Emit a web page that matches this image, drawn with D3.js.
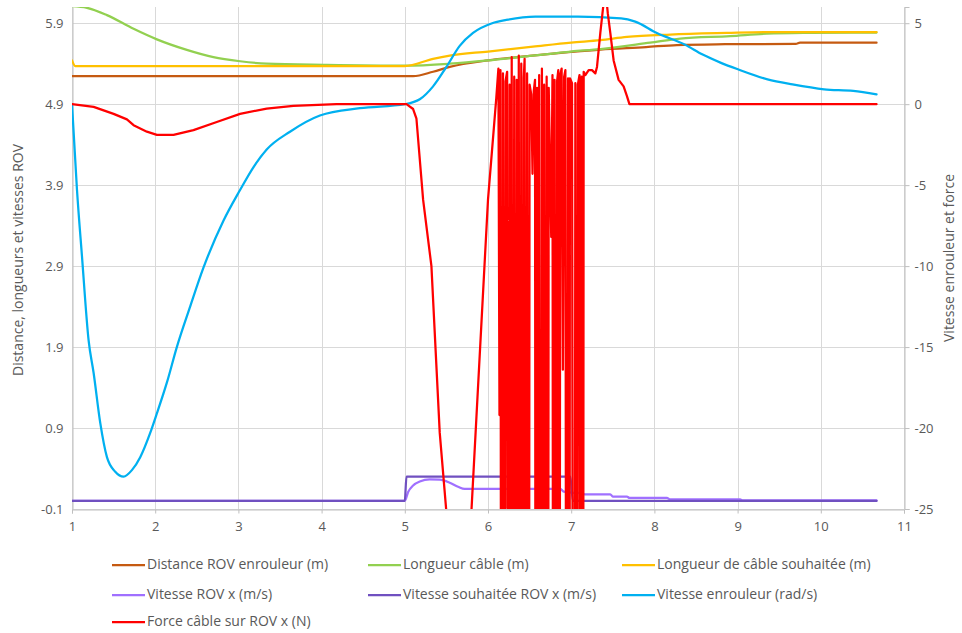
<!DOCTYPE html>
<html><head><meta charset="utf-8">
<script src="https://cdn.jsdelivr.net/npm/d3@7/dist/d3.min.js"></script>
<style>
body{margin:0;background:#fff;}
text{font-family:"Open Sans",sans-serif;fill:#595959;}
</style></head><body>
<svg id="chart" width="962" height="633"></svg>
<script>
// ---------- data ----------
const xTicks = [1,2,3,4,5,6,7,8,9,10,11];
const leftTicks = [-0.1,0.9,1.9,2.9,3.9,4.9,5.9];
const rightTicks = [-25,-20,-15,-10,-5,0,5];

const seriesNames = [
  "Distance ROV enrouleur (m)", "Longueur câble (m)", "Longueur de câble souhaitée (m)",
  "Vitesse ROV x (m/s)", "Vitesse souhaitée ROV x (m/s)", "Vitesse enrouleur (rad/s)",
  "Force câble sur ROV x (N)"
];
const seriesColors = ["#C55A11","#92D050","#FFC000","#A070FF","#7050C0","#00B0F0","#FF0000"];

// [time (s), value]
const distanceRov = [[1,5.245],[5.1,5.245],[5.34,5.30],[5.54,5.36],[6.0,5.44],[6.5,5.495],[7.0,5.545],[7.35,5.575],[7.9,5.605],[8.27,5.63],[8.85,5.64],[9.7,5.645],[9.75,5.66],[10.67,5.66]];
const cableLength = [[1,6.11],[1.18,6.09],[1.42,6.0],[1.74,5.83],[2.02,5.70],[2.38,5.57],[2.70,5.48],[3.02,5.43],[3.34,5.40],[4.06,5.385],[5.0,5.375],[5.54,5.40],[6.0,5.44],[6.54,5.50],[7.0,5.55],[7.35,5.58],[7.95,5.66],[8.31,5.71],[8.91,5.74],[9.35,5.77],[9.87,5.78],[10.67,5.785]];
const desiredLength = [[1,5.44],[1.04,5.37],[5.0,5.37],[5.34,5.46],[5.54,5.50],[6.0,5.55],[6.54,5.61],[7.0,5.66],[7.35,5.69],[7.67,5.73],[8.19,5.76],[8.87,5.78],[9.35,5.79],[10.67,5.79]];
const rovSpeed = [[1,0],[5.0,0],[5.04,0.11],[5.10,0.19],[5.18,0.24],[5.30,0.265],[5.42,0.262],[5.54,0.225],[5.64,0.175],[5.72,0.148],[6.87,0.148],[6.91,0.115],[7.03,0.10],[7.13,0.095],[7.16,0.082],[7.47,0.082],[7.50,0.053],[7.67,0.053],[7.70,0.037],[8.15,0.037],[8.19,0.02],[9.03,0.02],[9.06,0.005],[10.67,0.005]];
const desiredRovSpeed = [[1,0],[5.0,0],[5.02,0.3],[6.99,0.3],[7.02,0],[10.67,0]];
const winchSpeed = [[1.0,0],[1.06,-5.3],[1.12,-9.4],[1.20,-14.6],[1.26,-16.6],[1.34,-19.7],[1.42,-21.8],[1.52,-22.7],[1.62,-23.0],[1.72,-22.6],[1.82,-21.8],[1.94,-20.3],[2.02,-19.1],[2.14,-17.2],[2.26,-15.0],[2.42,-12.5],[2.58,-10.1],[2.82,-7.2],[3.02,-5.3],[3.18,-3.9],[3.34,-2.8],[3.62,-1.7],[3.98,-0.7],[4.46,-0.25],[5.0,0],[5.18,0.3],[5.34,1.1],[5.50,2.3],[5.66,3.6],[5.82,4.4],[6.05,5.0],[6.22,5.2],[6.57,5.4],[7.08,5.4],[7.60,5.3],[7.77,5.1],[8.03,4.39],[8.37,3.67],[8.58,3.06],[8.80,2.55],[9.01,2.14],[9.36,1.53],[9.66,1.22],[10.04,0.92],[10.39,0.82],[10.67,0.61]];
const cableForce = [[1.0,0],[1.26,-0.17],[1.50,-0.6],[1.66,-0.94],[1.74,-1.3],[1.90,-1.7],[2.02,-1.9],[2.22,-1.9],[2.46,-1.6],[2.74,-1.1],[3.02,-0.6],[3.34,-0.27],[3.66,-0.1],[4.18,0],[5.02,0],[5.10,-0.3],[5.14,-0.9],[5.18,-3.4],[5.22,-5.9],[5.32,-10.0],[5.42,-20.3],[5.50,-25.2],[5.67,-37],[5.80,-25.2],[6.0,-5.9],[6.07,-1.5],
 [6.10,0.4],[6.125,2.2],[6.138,-19.2],[6.15,2.1],[6.165,-90],[6.18,1.9],[6.195,-90],[6.21,1.4],
 [6.23,2.0],[6.245,-90],[6.26,1.2],[6.275,-90],[6.285,2.9],[6.30,-90],[6.315,1.7],[6.33,-90],[6.345,1.5],
 [6.36,-90],[6.37,3.0],[6.385,-90],[6.40,2.5],[6.415,-90],[6.43,1.6],[6.44,2.8],[6.455,-90],[6.47,1.9],
 [6.485,-90],[6.50,1.2],[6.52,0.6],[6.535,-4.3],[6.55,0.8],[6.565,1.5],[6.578,-90],[6.59,1.0],[6.60,-90],[6.615,1.8],
 [6.63,-90],[6.648,2.2],[6.66,-90],[6.675,1.2],[6.69,-90],[6.705,1.7],[6.715,-90],[6.73,1.0],
 [6.76,-8.2],[6.775,1.8],[6.79,-90],[6.80,1.5],[6.815,-90],[6.83,1.4],[6.845,2.1],[6.855,-90],[6.868,1.8],
 [6.885,2.2],[6.90,-16.4],[6.915,1.7],[6.93,2.1],[6.95,-90],[6.962,1.6],[6.975,-90],[6.985,1.6],
 [7.01,1.3],[7.035,-90],[7.05,1.3],[7.065,-90],[7.08,1.2],[7.10,1.8],[7.115,-90],[7.127,1.7],[7.137,-90],
 [7.15,2.0],[7.17,1.8],[7.21,2.1],[7.25,2.1],[7.29,1.9],[7.31,2.3],[7.35,4.4],[7.38,5.8],[7.41,7.2],[7.44,5.6],[7.47,4.4],[7.51,2.7],[7.57,1.5],[7.63,1.1],[7.67,0.5],[7.70,0],[10.67,0]];

const seriesData = [distanceRov, cableLength, desiredLength, rovSpeed, desiredRovSpeed, winchSpeed, cableForce];
const seriesAxis = ["left","left","left","left","left","right","right"];

// ---------- layout ----------
const plot = {left:72, right:904, top:7, bottom:509};
const svg = d3.select("#chart");

const x = d3.scaleLinear().domain([1,11]).range([plot.left, plot.right]);
const yL = d3.scaleLinear().domain([-0.1,6.1]).range([plot.bottom, plot.top]);
const yR = d3.scaleLinear().domain([-25,6]).range([plot.bottom, plot.top]);

// gridlines
const grid = svg.append("g");
grid.selectAll("line.h").data(leftTicks).join("line")
  .attr("x1", plot.left).attr("x2", plot.right)
  .attr("y1", d => Math.round(yL(d))+0.5).attr("y2", d => Math.round(yL(d))+0.5)
  .attr("stroke", "#D9D9D9").attr("stroke-width", 1);
grid.selectAll("line.v").data(xTicks).join("line")
  .attr("y1", plot.top).attr("y2", plot.bottom)
  .attr("x1", d => Math.round(x(d))+0.5).attr("x2", d => Math.round(x(d))+0.5)
  .attr("stroke", "#D9D9D9").attr("stroke-width", 1);

// axes
function styleAxis(g){
  g.selectAll("path.domain").attr("stroke","#BFBFBF").attr("stroke-width",1);
  g.selectAll(".tick line").attr("stroke","#BFBFBF");
  g.selectAll("text").attr("fill","#595959").style("font-size","13px").style("font-family",'"Open Sans",sans-serif');
}
svg.append("g").attr("transform",`translate(${plot.left+0.5},0)`)
  .call(d3.axisLeft(yL).tickValues(leftTicks).tickSize(0).tickPadding(9).tickFormat(d => d.toFixed(1)))
  .call(styleAxis);
svg.append("g").attr("transform",`translate(${plot.right+0.5},0)`)
  .call(d3.axisRight(yR).tickValues(rightTicks).tickSize(5).tickPadding(5).tickFormat(d => String(d)))
  .call(styleAxis);
svg.append("g").attr("transform",`translate(0,${plot.bottom+0.5})`)
  .call(d3.axisBottom(x).tickValues(xTicks).tickSize(4).tickPadding(8).tickFormat(d => String(d)))
  .call(styleAxis);

// axis titles
svg.append("text").attr("transform",`translate(23,${(plot.top+plot.bottom)/2 + 2}) rotate(-90)`)
  .attr("text-anchor","middle").style("font-size","14px").text("Distance, longueurs et vitesses ROV");
svg.append("text").attr("transform",`translate(950,${(plot.top+plot.bottom)/2}) rotate(-90)`)
  .attr("text-anchor","middle").attr("dominant-baseline","middle").style("font-size","14px").text("Vitesse enrouleur et force");

// clip
svg.append("defs").append("clipPath").attr("id","plotClip").append("rect")
  .attr("x",plot.left).attr("y",plot.top).attr("width",plot.right-plot.left).attr("height",plot.bottom-plot.top);

const lines = svg.append("g").attr("clip-path","url(#plotClip)");
seriesData.forEach((data,i) => {
  const yS = seriesAxis[i]==="left" ? yL : yR;
  const gen = d3.line().x(d => x(d[0])).y(d => yS(d[1]))
    .curve(i === 6 ? d3.curveLinear : d3.curveMonotoneX);
  lines.append("path").datum(data).attr("d",gen)
    .attr("fill","none").attr("stroke",seriesColors[i]).attr("stroke-width",2.25)
    .attr("stroke-linejoin","round").attr("stroke-linecap","round");
});

// legend
const legCols = [112,368,622], legRows = [565,595,622];
const leg = svg.append("g");
seriesNames.forEach((name,i) => {
  const cx = legCols[i%3], cy = legRows[Math.floor(i/3)];
  leg.append("line").attr("x1",cx).attr("x2",cx+33).attr("y1",cy).attr("y2",cy)
    .attr("stroke",seriesColors[i]).attr("stroke-width",2.25);
  leg.append("text").attr("x",cx+35).attr("y",cy).attr("dominant-baseline","middle")
    .style("font-size","14px").text(name);
});
</script>
</body></html>
